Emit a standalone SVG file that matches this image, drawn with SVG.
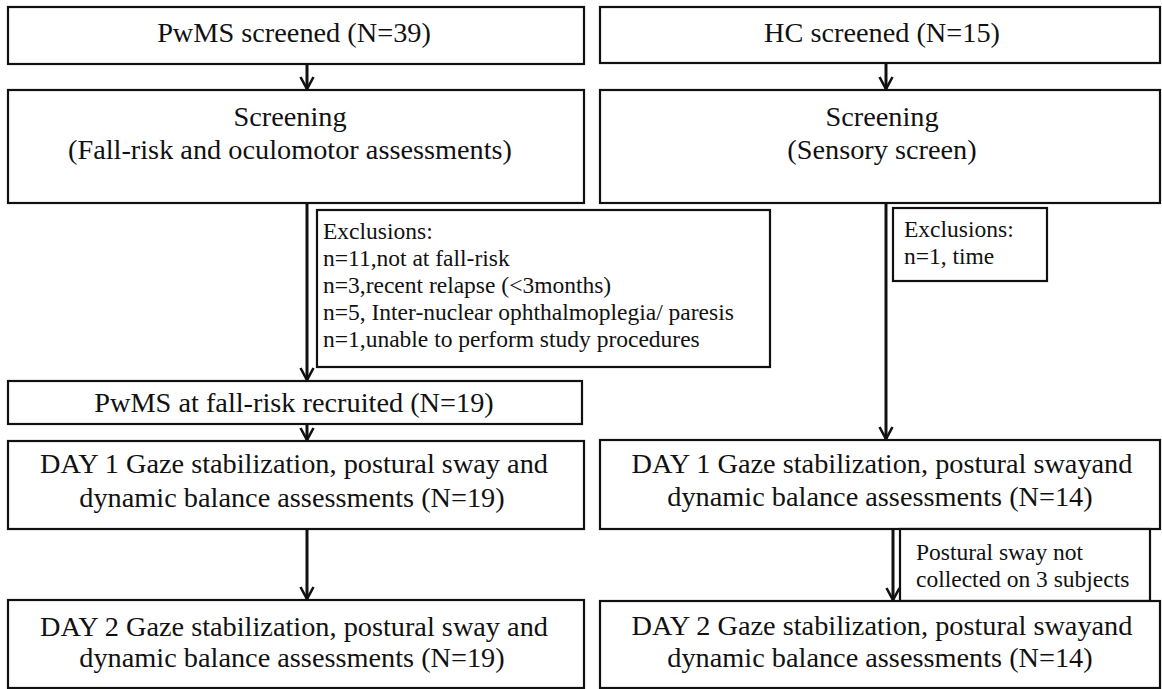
<svg xmlns="http://www.w3.org/2000/svg" width="1162" height="689" viewBox="0 0 1162 689">
<style>
.box{fill:#fff;stroke:#111;stroke-width:2.2}
.t{font-family:"Liberation Serif","Times New Roman",serif;font-size:28.3px;fill:#111;text-anchor:middle}
.s{font-family:"Liberation Serif","Times New Roman",serif;font-size:23.5px;fill:#111}
.c{stroke:#111;stroke-width:3;fill:none}
</style>
<defs>
<marker id="ah" viewBox="-14 -8 16 16" refX="0" refY="0" markerWidth="16" markerHeight="16" markerUnits="userSpaceOnUse" orient="auto">
<path d="M-12,-6.5 L0,0 L-12,6.5" fill="none" stroke="#111" stroke-width="2.6"/>
</marker>
</defs>
<rect width="1162" height="689" fill="#fff"/>
<g id="connectors">
<line class="c" x1="307" y1="64" x2="307" y2="89" marker-end="url(#ah)"/>
<line class="c" x1="886" y1="63" x2="886" y2="89" marker-end="url(#ah)"/>
<line class="c" x1="307" y1="203" x2="307" y2="380" marker-end="url(#ah)"/>
<line class="c" x1="886" y1="203" x2="886" y2="439" marker-end="url(#ah)"/>
<line class="c" x1="307" y1="424" x2="307" y2="440" marker-end="url(#ah)"/>
<line class="c" x1="307" y1="529" x2="307" y2="599" marker-end="url(#ah)"/>
<line class="c" x1="893" y1="529" x2="893" y2="600" marker-end="url(#ah)"/>
</g>
<g id="pwms-screened"><rect class="box" x="8" y="7" width="576" height="57"/><text class="t" x="294" y="42">PwMS screened (N=39)</text></g>
<g id="hc-screened"><rect class="box" x="600" y="7" width="560" height="56"/><text class="t" x="882" y="42">HC screened (N=15)</text></g>
<g id="pwms-screening"><rect class="box" x="8" y="90" width="576" height="113"/><text class="t" x="290" y="126">Screening</text><text class="t" x="290" y="159">(Fall-risk and oculomotor assessments)</text></g>
<g id="hc-screening"><rect class="box" x="600" y="90" width="560" height="113"/><text class="t" x="882" y="126">Screening</text><text class="t" x="882" y="159">(Sensory screen)</text></g>
<g id="pwms-exclusions"><rect class="box" x="317" y="210" width="453" height="157"/>
<text class="s" x="323" y="239">Exclusions:</text>
<text class="s" x="323" y="266">n=11,not at fall-risk</text>
<text class="s" x="323" y="293">n=3,recent relapse (&lt;3months)</text>
<text class="s" x="323" y="320">n=5, Inter-nuclear ophthalmoplegia/ paresis</text>
<text class="s" x="323" y="347">n=1,unable to perform study procedures</text></g>
<g id="hc-exclusions"><rect class="box" x="893" y="208" width="154" height="73"/>
<text class="s" x="904" y="237">Exclusions:</text>
<text class="s" x="904" y="264">n=1, time</text></g>
<g id="pwms-recruited"><rect class="box" x="8" y="381" width="574" height="43"/><text class="t" x="294" y="412">PwMS at fall-risk recruited (N=19)</text></g>
<g id="pwms-day1"><rect class="box" x="8" y="441" width="576" height="88"/><text class="t" x="294" y="473">DAY 1 Gaze stabilization, postural sway and</text><text class="t" x="292" y="507">dynamic balance assessments (N=19)</text></g>
<g id="hc-day1"><rect class="box" x="600" y="440" width="560" height="89"/><text class="t" x="882" y="473">DAY 1 Gaze stabilization, postural swayand</text><text class="t" x="880" y="506">dynamic balance assessments (N=14)</text></g>
<g id="hc-postural"><rect class="box" x="900" y="529" width="250" height="72"/>
<text class="s" x="916" y="560">Postural sway not</text>
<text class="s" x="916" y="587">collected on 3 subjects</text></g>
<g id="pwms-day2"><rect class="box" x="8" y="600" width="576" height="88"/><text class="t" x="294" y="636">DAY 2 Gaze stabilization, postural sway and</text><text class="t" x="292" y="667">dynamic balance assessments (N=19)</text></g>
<g id="hc-day2"><rect class="box" x="600" y="601" width="560" height="87"/><text class="t" x="882" y="635">DAY 2 Gaze stabilization, postural swayand</text><text class="t" x="880" y="667">dynamic balance assessments (N=14)</text></g>
</svg>
